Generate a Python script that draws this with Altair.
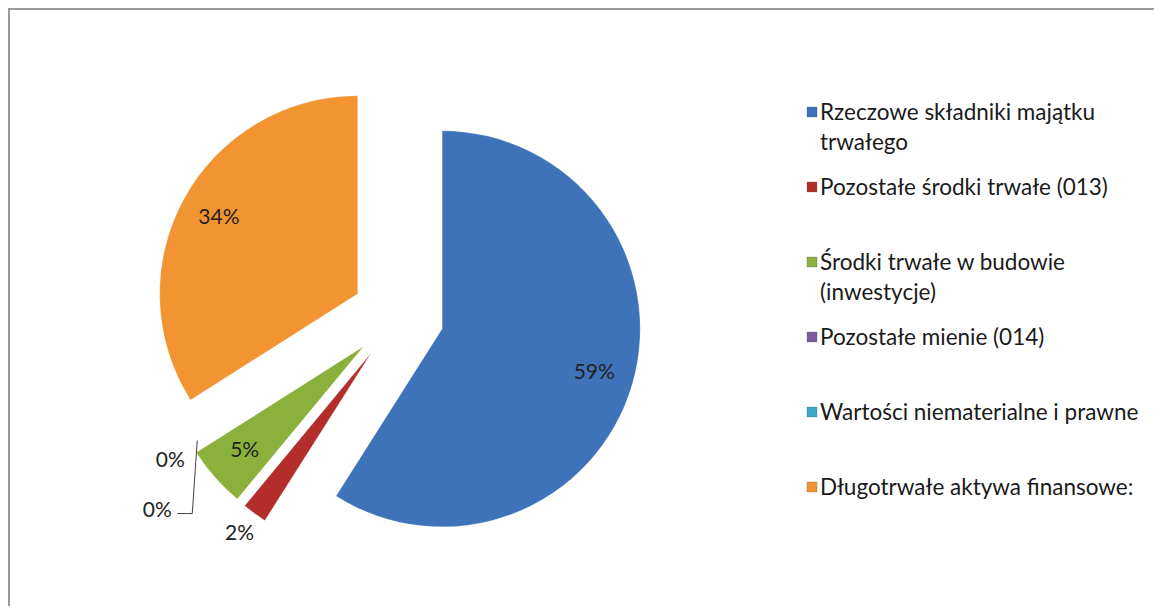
import altair as alt
import pandas as pd

categories = [
    "Rzeczowe składniki majątku trwałego",
    "Pozostałe środki trwałe (013)",
    "Środki trwałe w budowie (inwestycje)",
    "Pozostałe mienie (014)",
    "Wartości niematerialne i prawne",
    "Długotrwałe aktywa finansowe:",
]
legend_labels = [
    "Rzeczowe składniki majątku\ntrwałego",
    "Pozostałe środki trwałe (013)",
    "Środki trwałe w budowie\n(inwestycje)",
    "Pozostałe mienie (014)",
    "Wartości niematerialne i prawne",
    "Długotrwałe aktywa finansowe:",
]
shares = [59, 2, 5, 0, 0, 34]
colors = ["#3E73B9", "#B32E2B", "#8AB13C", "#7B5CA0", "#3BA9C6", "#F29431"]

FONT = "Lato"
CX, CY, R, E = 390, 308, 198, 46

df = pd.DataFrame({"cat": categories, "value": shares, "idx": list(range(len(shares)))})
leg = pd.DataFrame({"lbl": legend_labels, "cat": categories, "idx": list(range(len(categories)))})

color_scale = alt.Scale(domain=categories, range=colors)

base = (
    alt.Chart(df)
    .transform_joinaggregate(total="sum(value)")
    .transform_window(cum="sum(value)", sort=[alt.SortField("idx")], frame=[None, 0])
    .transform_calculate(
        start="(datum.cum - datum.value) / datum.total * 2 * PI",
        end="datum.cum / datum.total * 2 * PI",
    )
    .transform_calculate(mid="(datum.start + datum.end) / 2")
    .transform_calculate(
        cx=f"{CX} + {E} * sin(datum.mid)",
        cy=f"{CY} - {E} * cos(datum.mid)",
        lr=f"datum.value >= 5 ? {0.8 * R} : {1.13 * R}",
    )
    .transform_calculate(
        lx="datum.cx + datum.lr * sin(datum.mid) + (datum.idx == 4 ? -13 : 0)",
        ly="datum.cy - datum.lr * cos(datum.mid) + (datum.idx == 4 ? 50 : 0)",
        txt="format(datum.value, 'd') + '%'",
    )
)

arcs = base.mark_arc(outerRadius=R, innerRadius=0, stroke="#ffffff", strokeWidth=0.5, strokeOpacity=0.4).encode(
    x=alt.X("cx:Q", scale=None),
    y=alt.Y("cy:Q", scale=None),
    theta=alt.Theta("start:Q", scale=None),
    theta2="end:Q",
    color=alt.Color("cat:N", scale=color_scale, legend=None),
)

labels = base.mark_text(font=FONT, fontSize=21, color="#222222", align="center", baseline="middle").encode(
    x=alt.X("lx:Q", scale=None),
    y=alt.Y("ly:Q", scale=None),
    text="txt:N",
)

leader_base = base.transform_filter("datum.idx == 4").transform_calculate(
    ax="datum.lx + 20", ay="datum.ly + 3", bx="datum.lx + 35", by="datum.ly + 3",
    tx="datum.lx + 40", ty="datum.ly - 70",
)
leader1 = leader_base.mark_rule(color="#444444", strokeWidth=1).encode(
    x=alt.X("ax:Q", scale=None), x2="bx:Q", y=alt.Y("ay:Q", scale=None), y2="by:Q"
)
leader2 = leader_base.mark_rule(color="#444444", strokeWidth=1).encode(
    x=alt.X("bx:Q", scale=None), x2="tx:Q", y=alt.Y("by:Q", scale=None), y2="ty:Q"
)

leg_base = alt.Chart(leg).transform_calculate(ly="104 + datum.idx * 75")
leg_sq = leg_base.mark_square(size=100, opacity=1, stroke="#555555", strokeWidth=0.3).encode(
    x=alt.value(804),
    y=alt.Y("ly:Q", scale=None),
    color=alt.Color("cat:N", scale=color_scale, legend=None),
)
leg_txt = leg_base.mark_text(font=FONT, fontSize=22.5, color="#1a1a1a", align="left", baseline="alphabetic", dy=8, lineHeight=30, lineBreak="\n").encode(
    x=alt.value(812),
    y=alt.Y("ly:Q", scale=None),
    text="lbl:N",
)

# frame: only the top and left edges are visible in the reference
frame_top = alt.Chart(leg).transform_filter("datum.idx == 0").mark_rule(color="#9a9a9a", strokeWidth=2).encode(
    x=alt.value(0), x2=alt.value(1146), y=alt.value(1)
)
frame_left = alt.Chart(leg).transform_filter("datum.idx == 0").mark_rule(color="#9a9a9a", strokeWidth=2).encode(
    x=alt.value(1), y=alt.value(0), y2=alt.value(598)
)

chart = (
    alt.layer(frame_top, frame_left, arcs, labels, leader1, leader2, leg_sq, leg_txt)
    .properties(width=1146, height=598, padding=0, autosize=alt.AutoSizeParams(type="none"))
    .configure_view(stroke=None)
)

chart.save("out.html", embed_options={"renderer": "svg", "actions": False})
